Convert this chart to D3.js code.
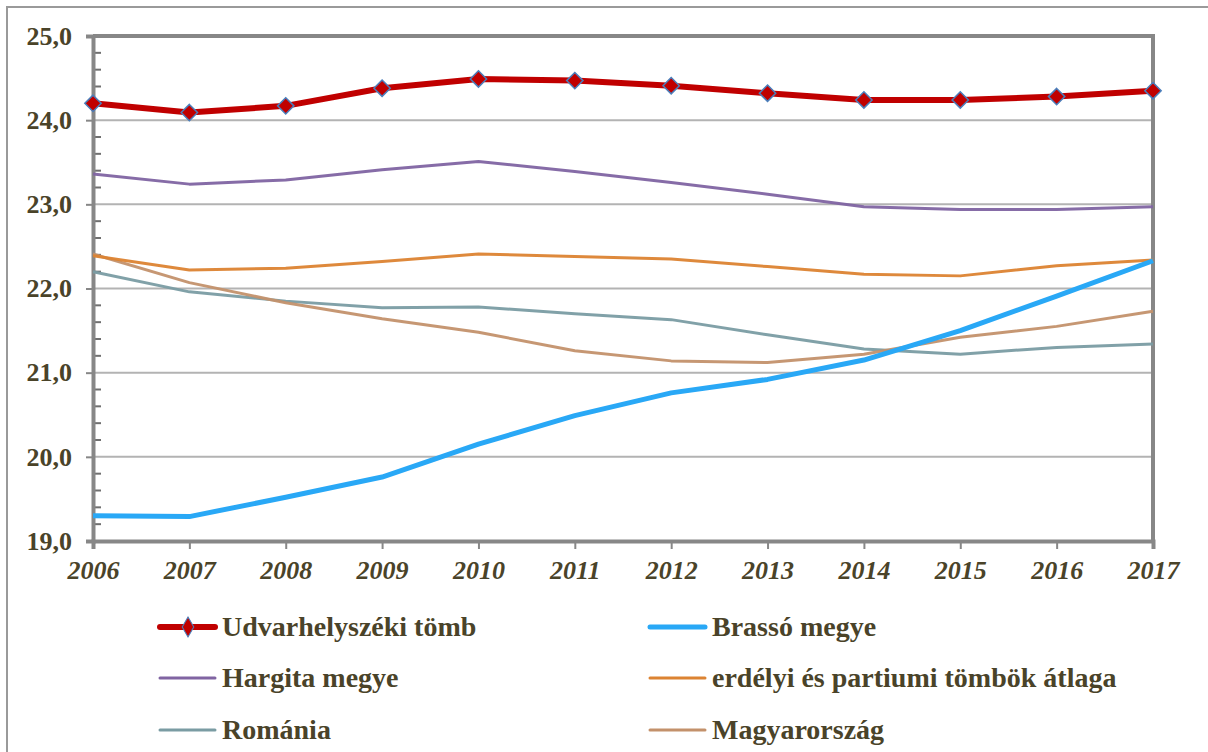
<!DOCTYPE html>
<html>
<head>
<meta charset="utf-8">
<script src="https://cdn.jsdelivr.net/npm/d3@7"></script>
<style>
  html, body { margin: 0; padding: 0; background: #fff; }
  svg { display: block; font-family: 'Liberation Serif', 'Times New Roman', serif; }
</style>
</head>
<body>
<svg id="chart" width="1208" height="752"></svg>
<script>
const years = [2006, 2007, 2008, 2009, 2010, 2011, 2012, 2013, 2014, 2015, 2016, 2017];

const udvarhely = [24.20, 24.09, 24.17, 24.38, 24.49, 24.47, 24.41, 24.32, 24.24, 24.24, 24.28, 24.35];
const brasso = [19.30, 19.29, 19.52, 19.76, 20.15, 20.49, 20.76, 20.92, 21.15, 21.50, 21.91, 22.33];
const hargita = [23.36, 23.24, 23.29, 23.41, 23.51, 23.39, 23.26, 23.12, 22.97, 22.94, 22.94, 22.97];
const erdelyi = [22.39, 22.22, 22.24, 22.32, 22.41, 22.38, 22.35, 22.26, 22.17, 22.15, 22.27, 22.34];
const romania = [22.20, 21.96, 21.85, 21.77, 21.78, 21.70, 21.63, 21.45, 21.28, 21.22, 21.30, 21.34];
const magyar = [22.41, 22.07, 21.83, 21.64, 21.48, 21.26, 21.14, 21.12, 21.22, 21.42, 21.55, 21.73];

const yTicks = [19, 20, 21, 22, 23, 24, 25];

const FONT = "'Liberation Serif', 'Times New Roman', serif";
const TEXT = '#4a4329';
const AXIS = '#878787';
const GRID = '#b3b3b3';

const series = [
  { name: 'Udvarhelyszéki tömb', values: udvarhely, color: '#c00000', width: 6, marker: true },
  { name: 'Brassó megye', values: brasso, color: '#29a8f6', width: 5 },
  { name: 'Hargita megye', values: hargita, color: '#8064a2', width: 3 },
  { name: 'erdélyi és partiumi tömbök átlaga', values: erdelyi, color: '#dc8332', width: 3 },
  { name: 'Románia', values: romania, color: '#7a9ca3', width: 3 },
  { name: 'Magyarország', values: magyar, color: '#c3916b', width: 3 },
];

const drawOrder = [4, 5, 3, 2, 1, 0];

const svg = d3.select('#chart');
const margin = { left: 93, right: 55, top: 36, bottom: 211 };
const width = 1208 - margin.left - margin.right;
const height = 752 - margin.top - margin.bottom;

// outer border
svg.append('rect')
  .attr('x', 7).attr('y', 7)
  .attr('width', 1210).attr('height', 760)
  .attr('fill', 'none')
  .attr('stroke', '#9a9a9a')
  .attr('stroke-width', 2);

const x = d3.scaleLinear()
  .domain([years[0], years[years.length - 1]])
  .range([0, width]);

const y = d3.scaleLinear()
  .domain([19, 25])
  .range([height, 0]);

const g = svg.append('g').attr('transform', `translate(${margin.left},${margin.top})`);

// gridlines
g.append('g')
  .selectAll('line')
  .data(yTicks.slice(1, -1))
  .join('line')
  .attr('x1', 0).attr('x2', width)
  .attr('y1', (d) => y(d)).attr('y2', (d) => y(d))
  .attr('stroke', GRID)
  .attr('stroke-width', 2);

// plot area frame (top + right)
g.append('path')
  .attr('d', `M0,${y(25)}H${width}V${height}`)
  .attr('fill', 'none')
  .attr('stroke', AXIS)
  .attr('stroke-width', 4);

// minor ticks on y axis
const minor = d3.range(19.2, 25, 0.2).filter((v) => Math.abs(v - Math.round(v)) > 0.05);
g.append('g')
  .selectAll('line')
  .data(minor)
  .join('line')
  .attr('x1', 0).attr('x2', 8)
  .attr('y1', (d) => y(d)).attr('y2', (d) => y(d))
  .attr('stroke', '#6f6f6f')
  .attr('stroke-width', 2);

// y axis
const yAxis = g.append('g')
  .attr('font-family', FONT)
  .call(d3.axisLeft(y).tickValues(yTicks).tickSize(7).tickPadding(14)
    .tickFormat((d) => d3.format('.1f')(d).replace('.', ',')));
yAxis.attr('font-family', FONT);
yAxis.select('.domain').attr('stroke', AXIS).attr('stroke-width', 4);
yAxis.selectAll('.tick line').attr('stroke', AXIS).attr('stroke-width', 2);
yAxis.selectAll('.tick text')
  .attr('fill', TEXT)
  .style('font-family', FONT)
  .style('font-size', '26px')
  .style('font-weight', 'bold');

// x axis
const xAxis = g.append('g')
  .attr('transform', `translate(0,${height})`)
  .call(d3.axisBottom(x).tickValues(years).tickSize(8).tickPadding(12).tickFormat(d3.format('d')));
xAxis.attr('font-family', FONT);
xAxis.select('.domain').attr('stroke', AXIS).attr('stroke-width', 4);
xAxis.selectAll('.tick line').attr('stroke', AXIS).attr('stroke-width', 2);
xAxis.selectAll('.tick text')
  .attr('fill', TEXT)
  .style('font-family', FONT)
  .style('font-size', '26px')
  .style('font-weight', 'bold')
  .style('font-style', 'italic');

const line = d3.line()
  .x((d, i) => x(years[i]))
  .y((d) => y(d));

drawOrder.forEach((idx) => {
  const s = series[idx];
  g.append('path')
    .datum(s.values)
    .attr('d', line)
    .attr('fill', 'none')
    .attr('stroke', s.color)
    .attr('stroke-width', s.width)
    .attr('stroke-linejoin', 'round')
    .attr('opacity', s.width === 3 ? 0.95 : 1);
});

const diamond = d3.symbol().type(d3.symbolDiamond2).size(170);

const red = series[0];
g.append('g')
  .selectAll('path')
  .data(red.values)
  .join('path')
  .attr('d', diamond)
  .attr('transform', (d, i) => `translate(${x(years[i])},${y(d)})`)
  .attr('fill', red.color)
  .attr('stroke', '#4a7ebb')
  .attr('stroke-width', 1.5);

// legend
const legendPos = [
  [160, 627], [650, 627],
  [160, 678], [650, 678],
  [160, 730], [650, 730],
];

const legend = svg.append('g');
series.forEach((s, i) => {
  const [lx, ly] = legendPos[i];
  const item = legend.append('g').attr('transform', `translate(${lx},${ly})`);
  item.append('line')
    .attr('x1', 0).attr('x2', 55)
    .attr('y1', 0).attr('y2', 0)
    .attr('stroke', s.color)
    .attr('stroke-width', s.width)
    .attr('stroke-linecap', 'round');
  if (s.marker) {
    item.append('path')
      .attr('d', d3.symbol().type(d3.symbolDiamond2).size(150))
      .attr('transform', 'translate(28,0) scale(0.75,1.3)')
      .attr('fill', s.color)
      .attr('stroke', '#4a7ebb')
      .attr('stroke-width', 1.2);
  }
  item.append('text')
    .attr('x', 62)
    .attr('y', 9)
    .attr('fill', TEXT)
    .style('font-size', '28px')
    .style('font-weight', 'bold')
    .text(s.name);
});
</script>
</body>
</html>
